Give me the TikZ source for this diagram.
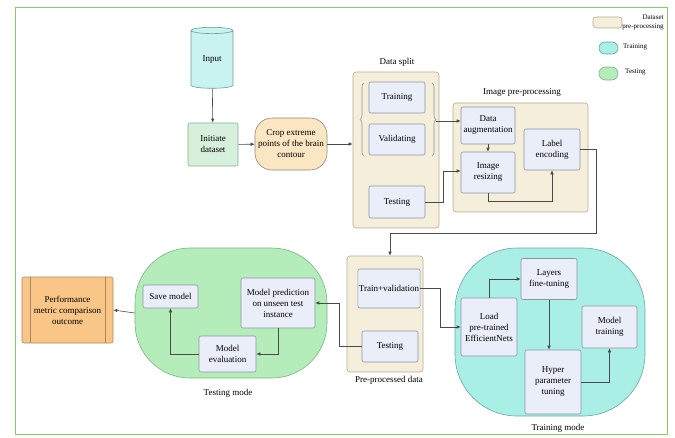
\documentclass[tikz,border=0pt]{standalone}
\usepackage{fontspec}
\setmainfont{Liberation Serif}
\usepackage{tikz}
\usetikzlibrary{arrows.meta}
\usetikzlibrary{calc}
\usetikzlibrary{shapes,positioning,decorations.pathreplacing}

\definecolor{framegreen}{HTML}{8CC86A}
\definecolor{beigefill}{HTML}{F5EEDA}
\definecolor{beigeline}{HTML}{B5AB90}
\definecolor{boxfill}{HTML}{E9EEF9}
\definecolor{boxline}{HTML}{8C94A3}
\definecolor{cyanfill}{HTML}{C9F3F0}
\definecolor{cyanline}{HTML}{6A9C9C}
\definecolor{initfill}{HTML}{D7F0DC}
\definecolor{initline}{HTML}{88AE90}
\definecolor{cropfill}{HTML}{FBE6C4}
\definecolor{cropline}{HTML}{948670}
\definecolor{testfill}{HTML}{B5EDBA}
\definecolor{testline}{HTML}{78B482}
\definecolor{trainfill}{HTML}{A9EFE6}
\definecolor{trainline}{HTML}{68A89F}
\definecolor{perffill}{HTML}{F9C687}
\definecolor{perfline}{HTML}{A88A60}
\definecolor{arrline}{HTML}{4A4A4A}

\tikzset{
  every node/.style={font=\fontsize{9}{11}\selectfont, align=center, inner sep=1pt},
  inbox/.style={draw=boxline, fill=boxfill, rounded corners=2pt, line width=0.6pt},
  group/.style={draw=beigeline, fill=beigefill, rounded corners=3pt, line width=0.6pt},
  arr/.style={draw=arrline, line width=0.6pt, -{Latex[length=4pt,width=3.5pt]}}
}

\begin{document}
\begin{tikzpicture}[x=1pt,y=-1pt]
  \useasboundingbox (0,0) rectangle (675,437);
  \draw[framegreen, line width=1pt] (15,7) rectangle (667,434);

  % legend
  \node[group, minimum width=29, minimum height=11] (lgbeige) at (607.5,22.5) {};
  \node[draw=trainline, fill=trainfill, line width=0.6pt, rounded rectangle, minimum width=21, minimum height=12] (lgtrain) at (608.5,48) {};
  \node[draw=testline, fill=testfill, line width=0.6pt, rounded rectangle, minimum width=21, minimum height=13] (lgtest) at (608.5,73.5) {};
  \node[align=right, font=\fontsize{7}{9}\selectfont] (lgbeigetxt) at (643,22) {Dataset\\pre-processing};
  \node[anchor=west, font=\fontsize{7}{9}\selectfont] (lgtraintxt) at (622,47) {Training};
  \node[anchor=west, font=\fontsize{7}{9}\selectfont] (lgtesttxt) at (624,72) {Testing};

  % containers
  \node[group, minimum width=86, minimum height=156] (dsplit) at (396,150) {};
  \node (dsplitlbl) at (397,62) {Data split};
  \node[group, minimum width=135, minimum height=109] (imgpre) at (520.5,157.5) {};
  \node (imgprelbl) at (522,92) {Image pre-processing};
  \node[group, minimum width=76, minimum height=116] (ppdata) at (385,314) {};
  \node (ppdatalbl) at (389,380) {Pre-processed data};
  \node[draw=trainline, fill=trainfill, line width=0.6pt, rounded corners=62pt, minimum width=190, minimum height=168] (trmode) at (550,332) {};
  \node (trmodelbl) at (558,428) {Training mode};
  \node[draw=testline, fill=testfill, line width=0.6pt, rounded corners=55pt, minimum width=192, minimum height=130] (tsmode) at (231,313) {};
  \node (tsmodelbl) at (228,393) {Testing mode};

  % first row
  \node[draw=cyanline, fill=cyanfill, line width=0.6pt, cylinder, shape border rotate=90, aspect=0.3, minimum width=42, minimum height=61] (input) at (212,60) {Input};
  \node[draw=initline, fill=initfill, line width=0.6pt, rounded corners=2pt, minimum width=50, minimum height=43] (init) at (213,144.5) {Initiate\\dataset};
  \node[draw=cropline, fill=cropfill, line width=0.6pt, rounded corners=17pt, minimum width=72, minimum height=52] (crop) at (291,144) {Crop extreme\\points of the brain\\contour};

  \node[inbox, minimum width=56, minimum height=31] (trn) at (397,97.5) {Training};
  \node[inbox, minimum width=56, minimum height=31] (val) at (397,139.5) {Validating};
  \node[inbox, minimum width=56, minimum height=32] (tst1) at (397,202) {Testing};

  \node[inbox, minimum width=54, minimum height=37] (aug) at (488,125.5) {Data\\augmentation};
  \node[inbox, minimum width=54, minimum height=41] (resize) at (488,172.5) {Image\\resizing};
  \node[inbox, minimum width=56, minimum height=41] (lblenc) at (552,149.5) {Label\\encoding};

  % second row
  \node[inbox, minimum width=62, minimum height=39] (tv) at (389,288.5) {Train+validation};
  \node[inbox, minimum width=56, minimum height=31] (tst2) at (390,346.5) {Testing};

  \node[inbox, minimum width=56, minimum height=58] (load) at (489,327) {Load\\pre-trained\\EfficientNets};
  \node[inbox, minimum width=56, minimum height=41] (layers) at (549,279) {Layers\\fine-tuning};
  \node[inbox, minimum width=56, minimum height=64] (hyper) at (553,382) {Hyper\\parameter\\tuning};
  \node[inbox, minimum width=55, minimum height=42] (mtrain) at (609.5,327) {Model\\training};

  \node[inbox, minimum width=55, minimum height=23] (save) at (170.5,296.5) {Save model};
  \node[inbox, minimum width=74, minimum height=50] (pred) at (278,303) {Model prediction\\on unseen test\\instance};
  \node[inbox, minimum width=57, minimum height=36] (eval) at (227.5,354) {Model\\evaluation};

  \node[draw=perfline, fill=perffill, line width=0.6pt, rounded corners=2pt, minimum width=91, minimum height=66] (perf) at (67.5,310) {Performance\\metric comparison\\outcome};
  \draw[perfline, line width=0.6pt] ([xshift=9pt]perf.north west) -- ([xshift=9pt]perf.south west);
  \draw[perfline, line width=0.6pt] ([xshift=-8pt]perf.north east) -- ([xshift=-8pt]perf.south east);

  % braces
  \coordinate (btop) at (432,83);
  \coordinate (bbot) at (432,156);
  \coordinate (btip) at (436,121);
  \draw[boxline, line width=0.6pt, decorate, decoration={brace, amplitude=4pt}] (btop) -- (bbot);
  \draw[boxline, line width=0.6pt, decorate, decoration={brace, amplitude=4pt}] (364,156) -- (364,83);

  % connectors
  \draw[arr] (input) -- (init);
  \draw[arr] (init) -- (crop);
  \draw[arr] (crop.east) -- (crop.east -| dsplit.west);
  \draw[arr] (btip) -- (btip -| aug.west);
  \draw[arr] (aug) -- (resize);
  \draw[arr] (tst1.east) -- ++(18,0) |- ([yshift=1.5pt]resize.west);
  \draw[arr] (resize.south) -- ++(0,8) -| (lblenc.south);
  \draw[arr] (lblenc.east) -- ++(16,0) -- ++(0,83.5) -| ([xshift=5pt]ppdata.north);
  \draw[arr] (tv.east) -- ++(20,0) |- (load.west);
  \draw[arr] (load.north) |- (layers.west);
  \draw[arr] (layers.south) -- (layers.south |- hyper.north);
  \draw[arr] (hyper.east) -| (mtrain.south);
  \draw[arr] (tst2.west) -- ++(-22,0) |- (pred.east);
  \draw[arr] (pred.south) |- (eval.east);
  \draw[arr] (eval.west) -| (save.south);
  \draw[arr] (tsmode.west) -- (perf.east);
\end{tikzpicture}
\end{document}
